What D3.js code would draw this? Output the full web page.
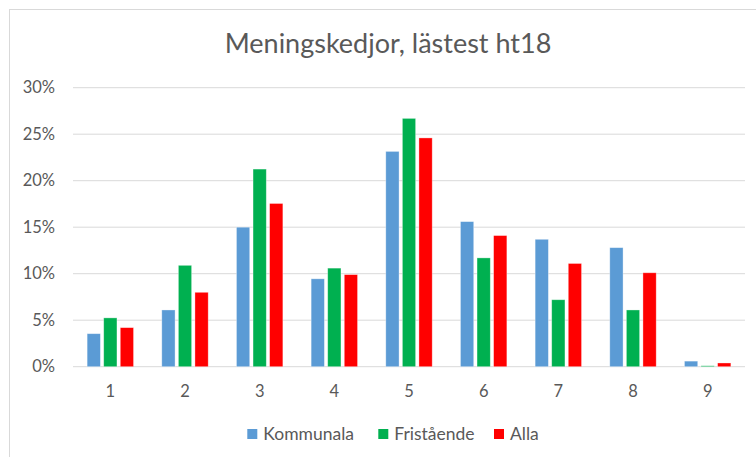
<!DOCTYPE html>
<html>
<head>
<meta charset="utf-8">
<script src="https://cdn.jsdelivr.net/npm/d3@7"></script>
<style>
  body { margin: 0; background: #fff; }
  text { font-family: Lato, "Open Sans", sans-serif; fill: #595959; }
</style>
</head>
<body>
<div id="chart"></div>
<script>
var categories = ['1', '2', '3', '4', '5', '6', '7', '8', '9'];
var seriesNames = ['Kommunala', 'Fristående', 'Alla'];
var kommunala = [3.55, 6.1, 15.0, 9.45, 23.15, 15.6, 13.7, 12.8, 0.6];
var fristaende = [5.25, 10.9, 21.25, 10.6, 26.7, 11.7, 7.2, 6.1, 0.1];
var alla = [4.2, 8.0, 17.55, 9.9, 24.6, 14.1, 11.1, 10.1, 0.4];
var yTicks = [0, 5, 10, 15, 20, 25, 30];
var colors = ['#5B9BD5', '#00B050', '#FF0000'];

var width = 756;
var height = 457;

var svg = d3.select('#chart')
    .append('svg')
    .attr('width', width)
    .attr('height', height);

// chart frame
svg.append('rect')
    .attr('x', 9.5)
    .attr('y', 9.5)
    .attr('width', width + 20)
    .attr('height', height + 20)
    .attr('fill', 'none')
    .attr('stroke', '#D9D9D9');

var x0 = d3.scaleBand()
    .domain(categories)
    .range([73, 745])
    .paddingInner(0)
    .paddingOuter(0);

// bar 13.3, gap 3.3 inside each group
var groupW = 46.4;
var x1 = d3.scaleBand()
    .domain(seriesNames)
    .range([(x0.bandwidth() - groupW) / 2, (x0.bandwidth() + groupW) / 2])
    .paddingInner(0.2);

var y = d3.scaleLinear()
    .domain([0, 30])
    .range([366.7, 87.7]);

// gridlines
svg.append('g')
    .selectAll('line')
    .data(yTicks)
    .enter()
    .append('line')
    .attr('x1', 73)
    .attr('x2', 745)
    .attr('y1', d => y(d))
    .attr('y2', d => y(d))
    .attr('stroke', '#D9D9D9')
    .attr('stroke-width', 1);

// y labels
svg.append('g')
    .selectAll('text')
    .data(yTicks)
    .enter()
    .append('text')
    .attr('x', 55)
    .attr('y', d => y(d))
    .attr('dy', '0.35em')
    .attr('text-anchor', 'end')
    .style('font-size', '16.5px')
    .text(d => d + '%');

// x labels
svg.append('g')
    .selectAll('text')
    .data(categories)
    .enter()
    .append('text')
    .attr('x', d => x0(d) + x0.bandwidth() / 2)
    .attr('y', 397)
    .attr('text-anchor', 'middle')
    .style('font-size', '16.5px')
    .text(d => d);

var rows = categories.map((c, i) => ({
    cat: c,
    vals: [kommunala[i], fristaende[i], alla[i]]
}));

var groups = svg.append('g')
    .selectAll('g')
    .data(rows)
    .enter()
    .append('g')
    .attr('transform', d => 'translate(' + x0(d.cat) + ',0)');

groups.selectAll('rect')
    .data(d => d.vals.map((v, j) => ({ name: seriesNames[j], v: v, j: j })))
    .enter()
    .append('rect')
    .attr('x', d => x1(d.name))
    .attr('y', d => y(d.v))
    .attr('width', x1.bandwidth())
    .attr('height', d => y(0) - y(d.v))
    .attr('fill', d => colors[d.j])
    .attr('stroke', '#ffffff')
    .attr('stroke-opacity', 0.45)
    .attr('stroke-width', 0.75);

// title
svg.append('text')
    .attr('x', 388)
    .attr('y', 53)
    .attr('text-anchor', 'middle')
    .style('font-size', '27px')
    .text('Meningskedjor, lästest ht18');

// legend
var legendX = [247.3, 378.3, 494];
var legend = svg.append('g')
    .selectAll('g')
    .data(seriesNames)
    .enter()
    .append('g')
    .attr('transform', (d, i) => 'translate(' + legendX[i] + ',429)');

legend.append('rect')
    .attr('width', 10)
    .attr('height', 10)
    .attr('fill', (d, i) => colors[i]);

legend.append('text')
    .attr('x', 16)
    .attr('y', 5)
    .attr('dy', '0.35em')
    .style('font-size', '17.5px')
    .text(d => d);
</script>
</body>
</html>
